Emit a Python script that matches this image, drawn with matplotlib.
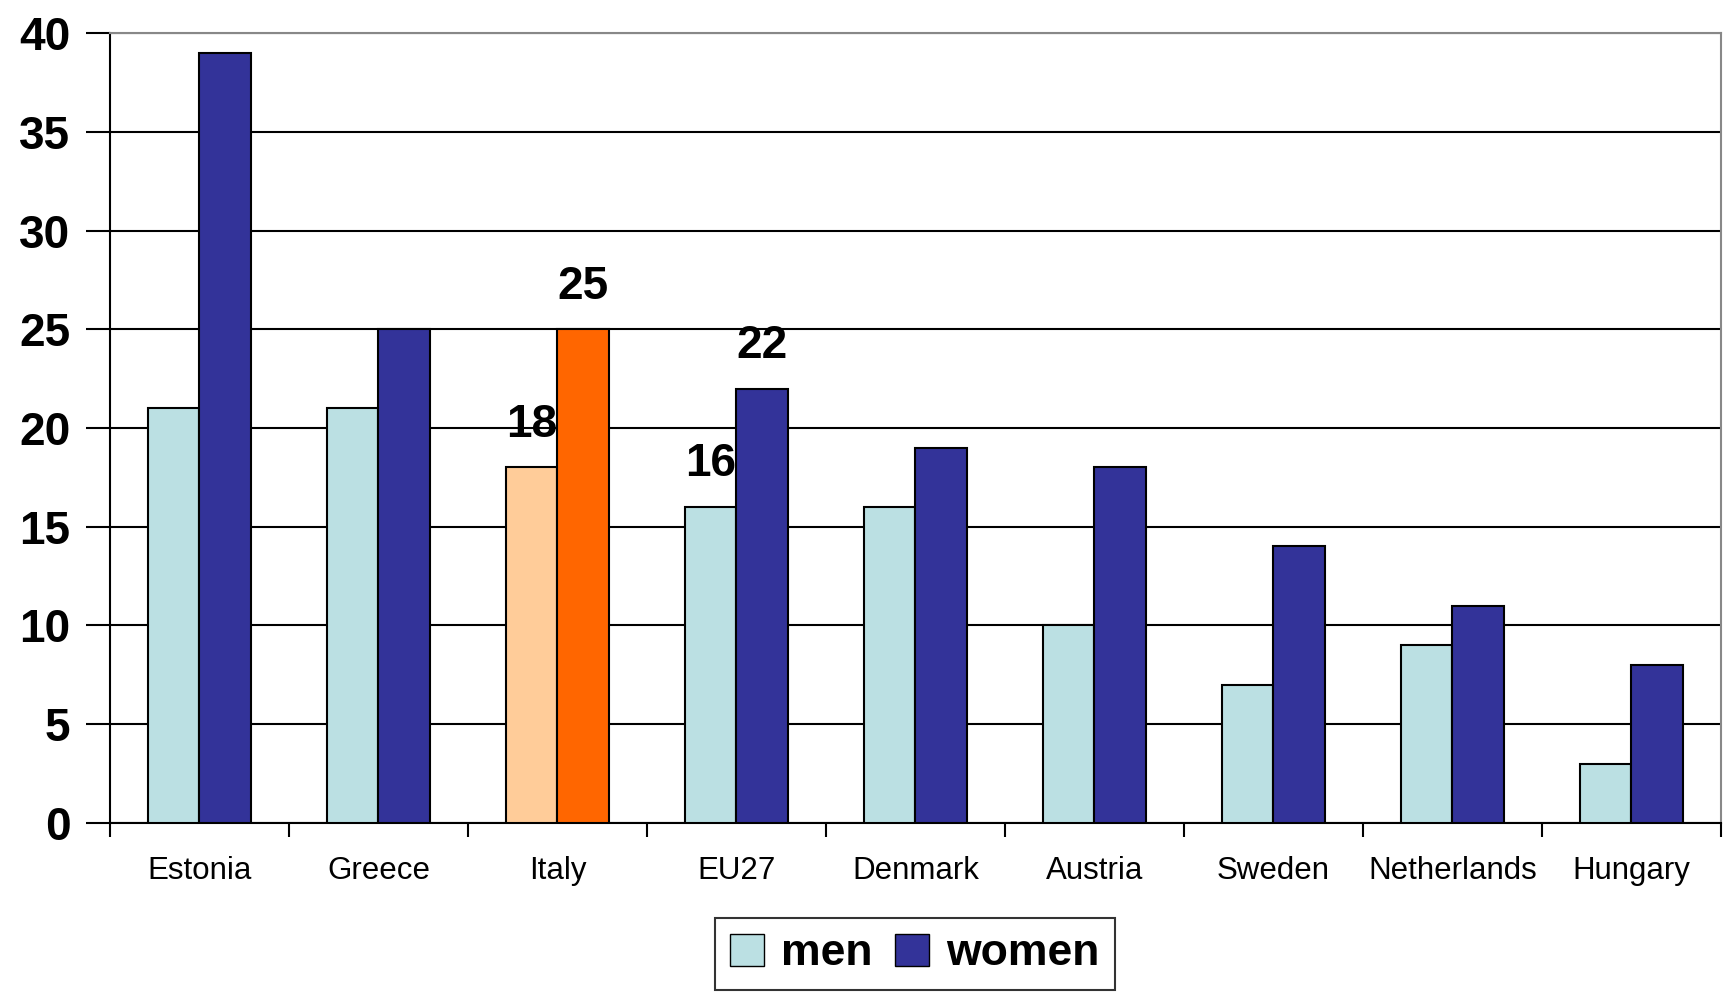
import matplotlib
matplotlib.use("Agg")
import matplotlib.pyplot as plt
import numpy as np
from matplotlib.patches import Patch

plt.rcParams['font.family'] = ['Liberation Sans', 'DejaVu Sans']

countries = ["Estonia", "Greece", "Italy", "EU27", "Denmark", "Austria",
             "Sweden", "Netherlands", "Hungary"]
men = [21, 21, 18, 16, 16, 10, 7, 9, 3]
women = [39, 25, 25, 22, 19, 18, 14, 11, 8]
labelled = ["Italy", "EU27"]

men_color = "#BBE0E3"
women_color = "#333399"
men_hi = "#FFCC99"
women_hi = "#FF6600"

fig = plt.figure(figsize=(17.31, 9.92), dpi=100)
ax = fig.add_axes([0.0635, 0.1704, 0.9307, 0.7963])

x = np.arange(len(countries))
w = 0.29
men_cols = [men_hi if c == "Italy" else men_color for c in countries]
women_cols = [women_hi if c == "Italy" else women_color for c in countries]

ax.bar(x - w / 2, men, w, color=men_cols, edgecolor="black", linewidth=1.5, zorder=3)
ax.bar(x + w / 2, women, w, color=women_cols, edgecolor="black", linewidth=1.5, zorder=3)

for i, c in enumerate(countries):
    if c in labelled:
        ax.text(x[i] - w / 2, men[i] + 1.55, str(men[i]), ha="center", va="baseline",
                fontsize=33, fontweight="bold", zorder=4)
        ax.text(x[i] + w / 2, women[i] + 1.55, str(women[i]), ha="center", va="baseline",
                fontsize=33, fontweight="bold", zorder=4)

ax.set_xlim(-0.5, len(countries) - 0.5)
ax.set_ylim(0, 40)
ax.set_yticks(range(0, 41, 5))
ax.set_yticklabels([str(v) for v in range(0, 41, 5)], fontsize=33, fontweight="bold")
ax.tick_params(axis="y", length=17, width=1.5, pad=11.5, direction="out")

ax.set_xticks(x)
ax.set_xticklabels(countries, fontsize=22.5)
ax.tick_params(axis="x", which="major", length=0, pad=24)
ax.set_xticks(np.arange(-0.5, len(countries), 1), minor=True)
ax.tick_params(axis="x", which="minor", length=10, width=1.5, direction="out")

ax.yaxis.grid(True, color="black", linewidth=1.5, zorder=0)
ax.set_axisbelow(True)
for s in ["left", "bottom"]:
    ax.spines[s].set_linewidth(1.5)
    ax.spines[s].set_color("black")
for s in ["top", "right"]:
    ax.spines[s].set_linewidth(1.5)
    ax.spines[s].set_color("#888888")

handles = [Patch(facecolor=men_color, edgecolor="black", label="men"),
           Patch(facecolor=women_color, edgecolor="black", label="women")]
leg = fig.legend(handles=handles, loc="center", bbox_to_anchor=(0.5286, 0.0385), ncol=2,
                 frameon=True, fancybox=False, edgecolor="black",
                 prop={"size": 32, "weight": "bold"}, handlelength=0.75, handleheight=0.75,
                 handletextpad=0.4, columnspacing=0.5, borderpad=0.35, borderaxespad=0)
leg.get_frame().set_linewidth(1.5)

fig.savefig("out.png", dpi=100, facecolor="white")
